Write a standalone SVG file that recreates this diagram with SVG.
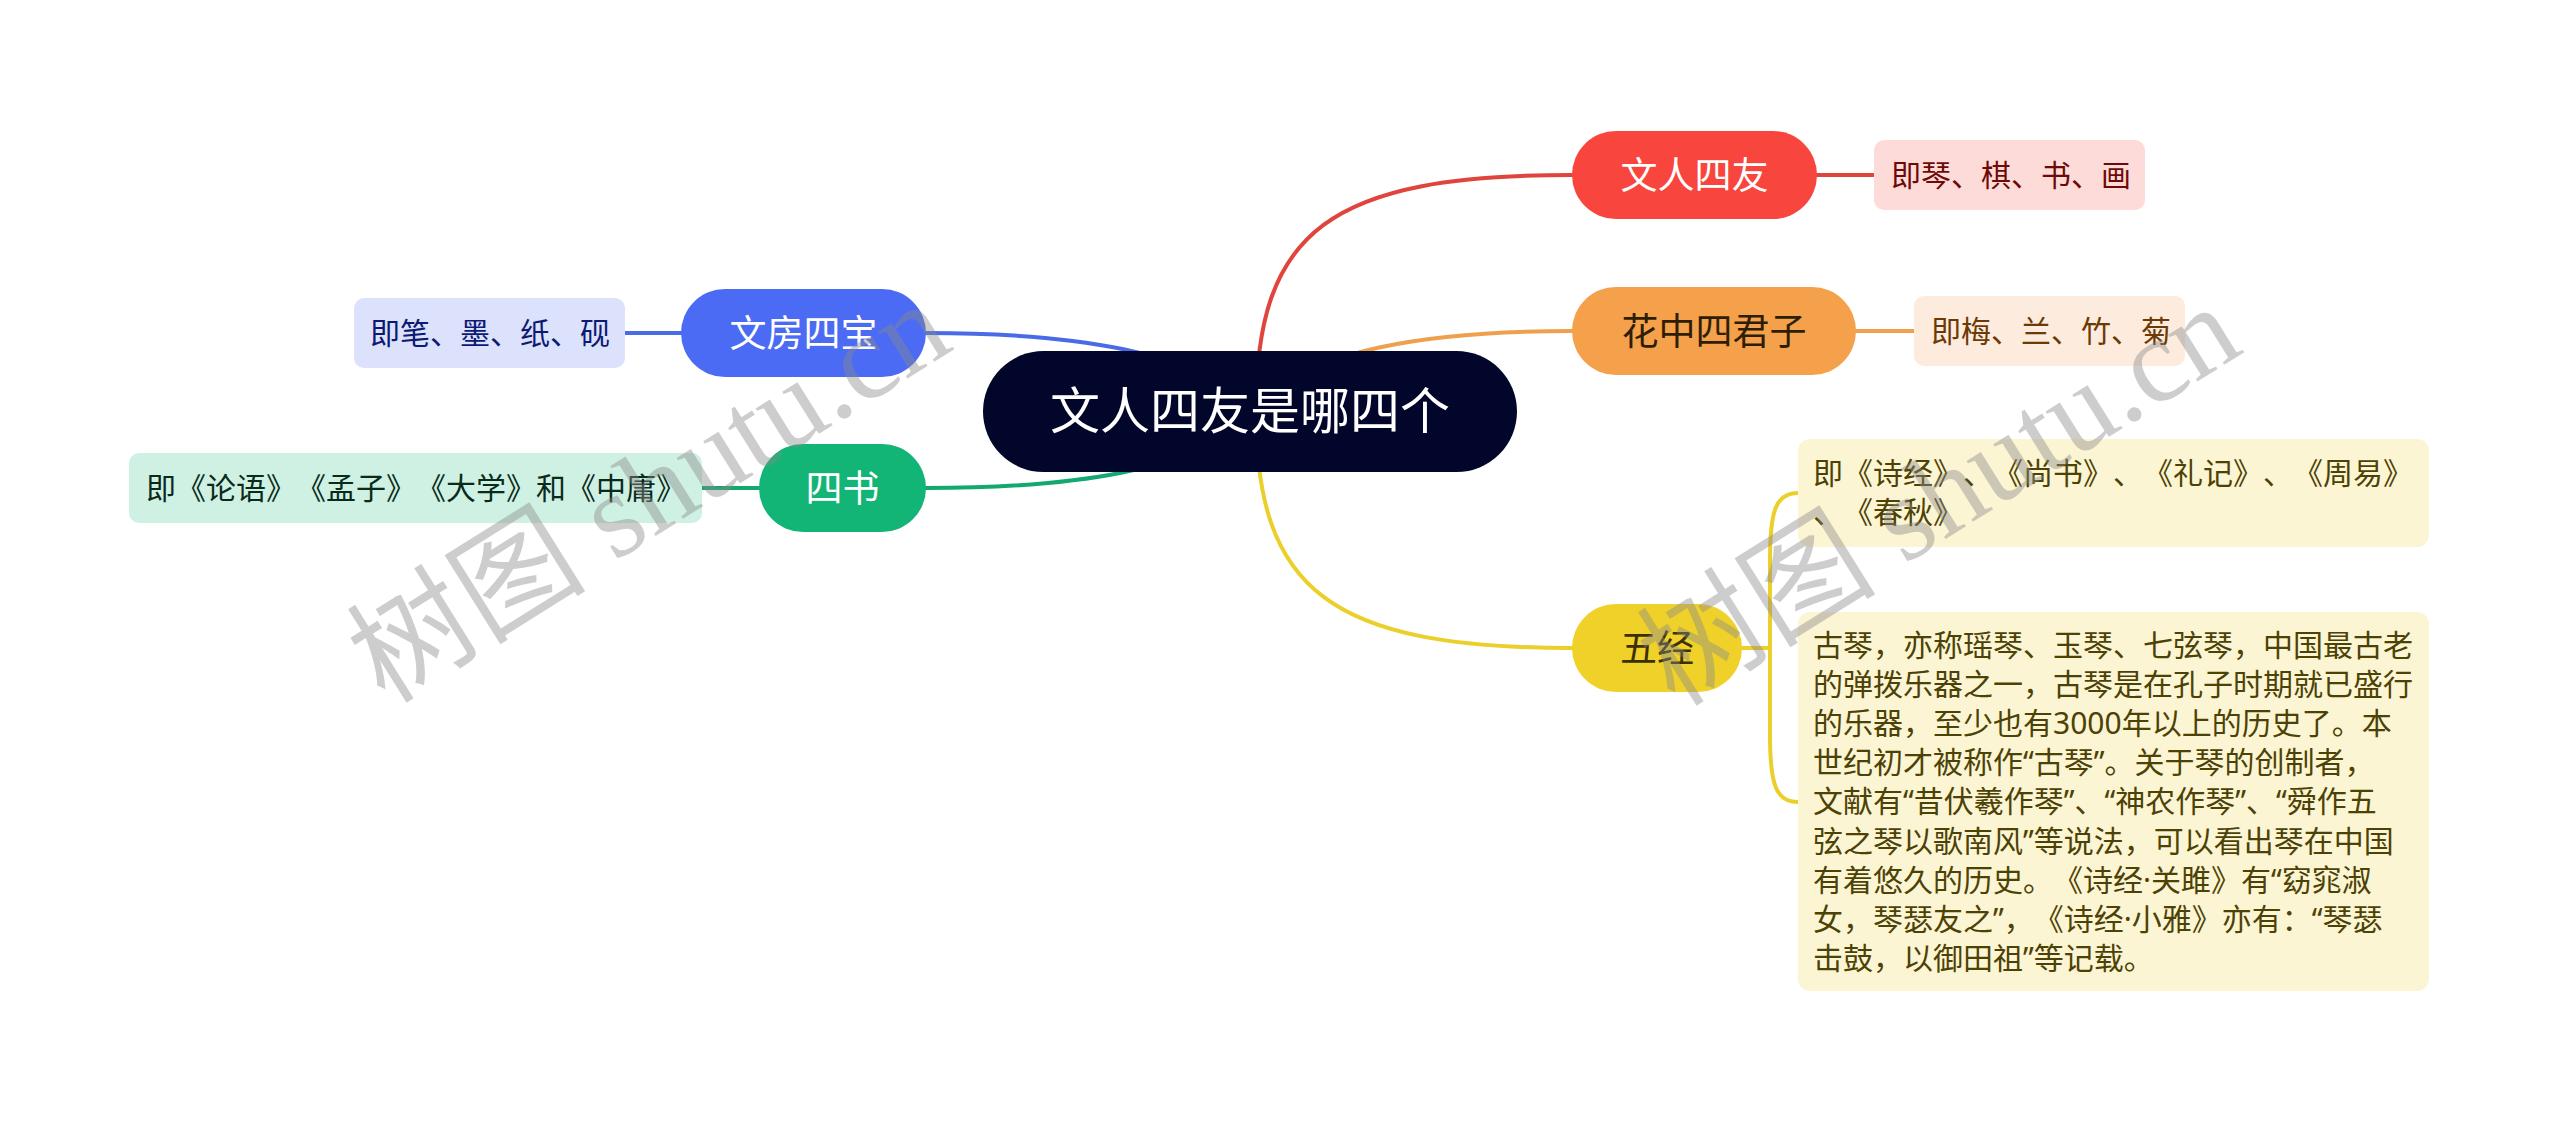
<svg xmlns="http://www.w3.org/2000/svg" width="2560" height="1121" viewBox="0 0 2560 1121">
<style>
text{font-family:"Noto Sans","Noto Sans CJK SC",sans-serif;text-spacing-trim:space-all;}
.c{fill:none;stroke-width:4;stroke-linecap:round}
.n{font-size:37px;text-anchor:middle}
.l{font-size:30px}
.wm{font-family:"Liberation Serif","Noto Sans CJK SC",serif;font-size:120px;fill:#8a8a8a;opacity:0.42}
</style>
<rect width="2560" height="1121" fill="#ffffff"/>
<g id="connectors">
<path class="c" stroke="#E0453D" d="M1256 411 C1256 230 1330 175 1572 175"/>
<path class="c" stroke="#EFA04F" d="M1250 410 C1310 348 1430 331 1572 331"/>
<path class="c" stroke="#EBCF2A" d="M1256 411 C1256 590 1330 648 1572 648"/>
<path class="c" stroke="#4A6BE6" d="M1258 410 C1195 350 1070 333 926 333"/>
<path class="c" stroke="#13A870" d="M1258 412 C1195 472 1070 488 926 488"/>
<path class="c" stroke="#E0453D" d="M1817 175 H1874"/>
<path class="c" stroke="#EFA04F" d="M1856 331 H1914"/>
<path class="c" stroke="#4A6BE6" d="M625 333 H681"/>
<path class="c" stroke="#13A870" d="M702 488 H759"/>
<path class="c" stroke="#EBCF2A" d="M1742 648 H1770"/>
<path class="c" stroke="#EBCF2A" d="M1798 493 C1776 493 1770 510 1770 560 L1770 735 C1770 785 1776 802 1798 802"/>
</g>
<g id="center">
<rect x="983" y="351" width="534" height="121" rx="60.5" fill="#02062A"/>
<text x="1250" y="429" font-size="50" text-anchor="middle" fill="#ffffff">文人四友是哪四个</text>
</g>
<g id="n-wenrensiyou">
<rect x="1572" y="131" width="245" height="88" rx="44" fill="#F8453D"/>
<text class="n" x="1694.5" y="188.5" fill="#ffffff">文人四友</text>
</g>
<g id="l-wenrensiyou">
<rect x="1874" y="140" width="271" height="70" rx="10" fill="#FDDBD9"/>
<text class="l" x="1891" y="186" fill="#6E0A05">即琴、棋、书、画</text>
</g>
<g id="n-huazhong">
<rect x="1572" y="287" width="284" height="88" rx="44" fill="#F5A04B"/>
<text class="n" x="1714" y="344.5" fill="#2E1E06">花中四君子</text>
</g>
<g id="l-huazhong">
<rect x="1914" y="296" width="271" height="70" rx="10" fill="#FDEBDD"/>
<text class="l" x="1931" y="342" fill="#6B3A06">即梅、兰、竹、菊</text>
</g>
<g id="n-wujing">
<rect x="1572" y="604" width="170" height="88" rx="44" fill="#F0D12A"/>
<text class="n" x="1657" y="661.5" fill="#3A3000">五经</text>
</g>
<g id="l-wujing-1">
<rect x="1798" y="439" width="631" height="108" rx="12" fill="#FCF5D3"/>
<text class="l" fill="#4D4205"><tspan x="1813" y="484">即《诗经》、《尚书》、《礼记》、《周易》</tspan><tspan x="1813" y="523">、《春秋》</tspan></text>
</g>
<g id="l-wujing-2">
<rect x="1798" y="612" width="631" height="379" rx="12" fill="#FCF5D3"/>
<text class="l" fill="#4D4205">
<tspan x="1813" y="655.5">古琴，亦称瑶琴、玉琴、七弦琴，中国最古老</tspan>
<tspan x="1813" y="694.7">的弹拨乐器之一，古琴是在孔子时期就已盛行</tspan>
<tspan x="1813" y="733.9">的乐器，至少也有3000年以上的历史了。本</tspan>
<tspan x="1813" y="773.1">世纪初才被称作“古琴”。关于琴的创制者，</tspan>
<tspan x="1813" y="812.3">文献有“昔伏羲作琴”、“神农作琴”、“舜作五</tspan>
<tspan x="1813" y="851.5">弦之琴以歌南风”等说法，可以看出琴在中国</tspan>
<tspan x="1813" y="890.7">有着悠久的历史。《诗经·关雎》有“窈窕淑</tspan>
<tspan x="1813" y="929.9">女，琴瑟友之”，《诗经·小雅》亦有：“琴瑟</tspan>
<tspan x="1813" y="969.1">击鼓，以御田祖”等记载。</tspan>
</text>
</g>
<g id="n-wenfang">
<rect x="681" y="289" width="245" height="88" rx="44" fill="#4B6BF5"/>
<text class="n" x="803.5" y="346.5" fill="#ffffff">文房四宝</text>
</g>
<g id="l-wenfang">
<rect x="354" y="298" width="271" height="70" rx="10" fill="#DCE2FB"/>
<text class="l" x="370" y="344" fill="#0C1A73">即笔、墨、纸、砚</text>
</g>
<g id="n-sishu">
<rect x="759" y="444" width="167" height="88" rx="44" fill="#12B576"/>
<text class="n" x="842.5" y="501.5" fill="#ffffff">四书</text>
</g>
<g id="l-sishu">
<rect x="129" y="453" width="573" height="70" rx="10" fill="#CFF1E3"/>
<text class="l" x="146" y="499" fill="#0A2A1C">即《论语》《孟子》《大学》和《中庸》</text>
</g>
<g id="watermark">
<text class="wm" transform="translate(385 705) rotate(-32)">树图 shutu.cn</text>
<text class="wm" transform="translate(1675 708) rotate(-32)">树图 shutu.cn</text>
</g>
</svg>
